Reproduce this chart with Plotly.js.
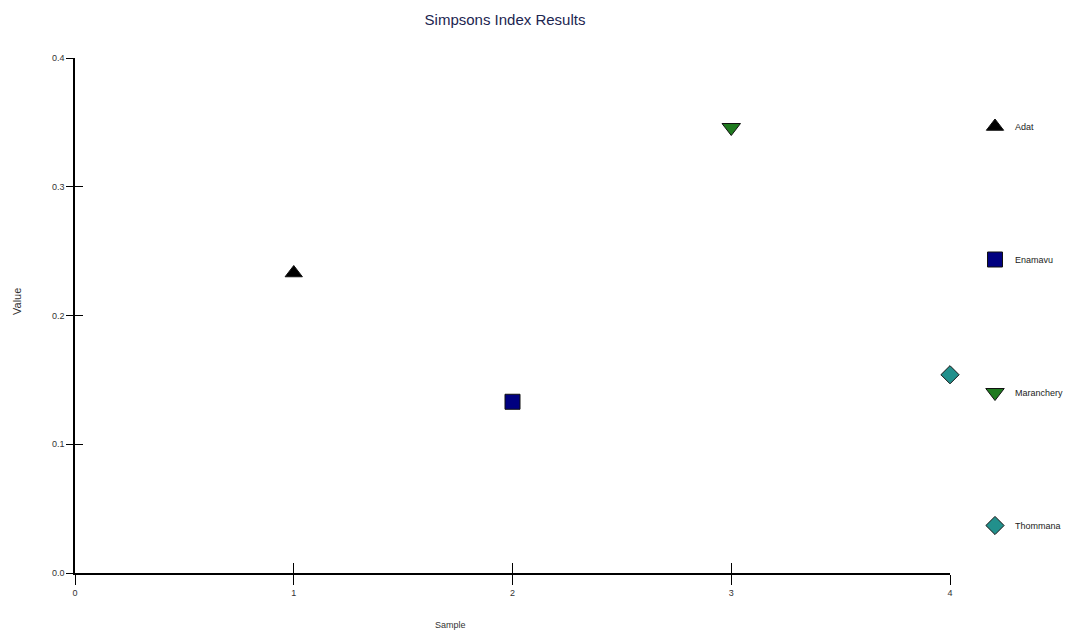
<!DOCTYPE html>
<html>
<head>
<meta charset="utf-8">
<script src="https://cdn.plot.ly/plotly-3.0.1.min.js"></script>
<style>html,body{margin:0;padding:0;background:#fff}#chart{width:1065px;height:637px}</style>
</head>
<body>
<div id="chart"></div>
<script>
var sites = ["Adat", "Enamavu", "Maranchery", "Thommana"];
var samples = [1, 2, 3, 4];
var values = [0.233, 0.133, 0.346, 0.154];
var symbols = ["triangle-up", "square", "triangle-down", "diamond"];
var colors = ["#000000", "#000080", "#1f7a1f", "#22908c"];
var xTicks = [0, 1, 2, 3, 4];
var yTicks = [0, 0.1, 0.2, 0.3, 0.4];

var FONT = "Liberation Sans Narrow, Arial Narrow, Liberation Sans, Arial, sans-serif";
var sizes = [15, 15, 16, 14];

var traces = sites.map(function (s, i) {
  return {
    type: "scatter", mode: "markers",
    x: [samples[i]], y: [values[i]], name: s,
    legendgroup: s, cliponaxis: false,
    marker: {symbol: symbols[i], size: sizes[i], color: colors[i],
             line: {color: "#111111", width: 1}},
    hoverinfo: "x+y+name"
  };
});
// overlay axes for inside half of crossing tick marks
traces.push({type: "scatter", x: [0], y: [0], xaxis: "x2", yaxis: "y2",
  mode: "markers", marker: {opacity: 0}, showlegend: false, hoverinfo: "skip"});

var layout = {
  width: 1065, height: 637,
  paper_bgcolor: "#ffffff", plot_bgcolor: "#ffffff",
  margin: {l: 75, r: 115, t: 58, b: 64, autoexpand: false},
  font: {family: FONT, size: 9, color: "#333333"},
  title: {text: "Simpsons Index Results", x: 505 / 1065, xref: "container", xanchor: "center",
          y: 1 - 20 / 637, yanchor: "middle",
          font: {family: FONT, size: 15, color: "#1c2550"}},
  showlegend: true,
  legend: {xref: "container", yref: "container", x: 975 / 1065, xanchor: "left",
           y: 1 - 112 / 637, yanchor: "top", maxheight: 600,
           traceorder: "grouped", tracegroupgap: 114, itemwidth: 30,
           font: {family: FONT, size: 9, color: "#222222"}, bgcolor: "rgba(0,0,0,0)"},
  xaxis: {range: [0, 4], tickvals: xTicks, ticktext: xTicks.map(String),
          showgrid: false, zeroline: false, showline: true, linecolor: "#000000", linewidth: 1.5,
          ticks: "outside", ticklen: 10, tickwidth: 1, tickcolor: "#000000",
          tickfont: {family: FONT, size: 9, color: "#333333"}, fixedrange: true},
  yaxis: {range: [0, 0.4], tickvals: yTicks, ticktext: yTicks.map(function (v) { return v.toFixed(1); }),
          showgrid: false, zeroline: false, showline: true, linecolor: "#000000", linewidth: 1.5,
          ticks: "outside", ticklen: 7, tickwidth: 1, tickcolor: "#000000",
          tickfont: {family: FONT, size: 9, color: "#333333"}, fixedrange: true},
  xaxis2: {range: [0, 4], overlaying: "x", tickvals: xTicks.slice(1), showticklabels: false,
           showgrid: false, zeroline: false, showline: false,
           ticks: "inside", ticklen: 10, tickwidth: 1, tickcolor: "#000000", fixedrange: true},
  yaxis2: {range: [0, 0.4], overlaying: "y", tickvals: yTicks.slice(1), showticklabels: false,
           showgrid: false, zeroline: false, showline: false,
           ticks: "inside", ticklen: 8, tickwidth: 1, tickcolor: "#000000", fixedrange: true},
  annotations: [
    {text: "Sample", xref: "paper", yref: "paper", x: (450 - 75) / 875, y: (573 - 625) / 515,
     showarrow: false, xanchor: "center", yanchor: "middle",
     font: {family: FONT, size: 9, color: "#333333"}},
    {text: "Value", xref: "paper", yref: "paper", x: (17 - 75) / 875, y: (573 - 302) / 515,
     showarrow: false, textangle: -90, xanchor: "center", yanchor: "middle",
     font: {family: FONT, size: 11, color: "#333333"}}
  ]
};

Plotly.newPlot("chart", traces, layout, {displayModeBar: false, staticPlot: false});
</script>
</body>
</html>
